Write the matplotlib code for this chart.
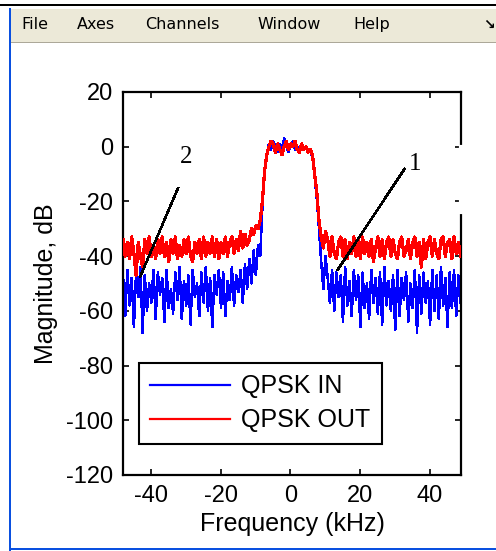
import numpy as np
import matplotlib
matplotlib.use("Agg")
import matplotlib.pyplot as plt
from matplotlib.patches import Rectangle

# ---------------- data ----------------
f_start = -48.0      # kHz, first spectrum bin
f_step = 0.625       # kHz, bin spacing

qpsk_in = [
    -47, -62, -45, -58, -48, -66, -46, -55, -44, -68,
    -47, -60, -50, -57, -45, -63, -46, -54, -48, -64,
    -45, -59, -52, -61, -46, -56, -44, -63, -49, -58,
    -47, -65, -45, -55, -50, -62, -46, -57, -44, -60,
    -48, -66, -47, -54, -45, -59, -46, -62, -49, -56,
    -44, -58, -47, -53, -45, -57, -43, -52,
    -41, -50, -38, -47, -36, -40, -22, -10, -3,
    1, -1, 2, 0, -2, 1, -1, 3, 0, -2, 1, 2, -1, 0, -2, 1, -1, 0, -2, -1,
    -4, -11, -19, -30, -42, -52, -40,
    -48, -57, -45, -60, -46, -55, -47, -64, -44, -58,
    -49, -62, -45, -56, -47, -66, -46, -59, -50, -63,
    -45, -57, -48, -61, -46, -65, -44, -58, -49, -60,
    -47, -67, -45, -62, -48, -56, -46, -64, -50, -59,
    -45, -68, -47, -61, -46, -57, -49, -65, -45, -60,
    -47, -63, -44, -58, -48, -66, -46, -59, -45, -62,
    -47, -57,
]

qpsk_out = [
    -34, -40, -35, -41, -33, -39, -47, -35, -40, -44,
    -34, -39, -33, -40, -36, -41, -34, -39, -33, -40,
    -35, -42, -34, -39, -33, -41, -36, -40, -34, -39,
    -33, -40, -42, -35, -39, -34, -41, -33, -40, -35,
    -39, -33, -40, -34, -41, -35, -39, -33, -40, -35,
    -33, -39, -34, -38, -31, -37, -32, -36,
    -34, -30, -32, -29, -30, -27, -20, -9, -3,
    0, 2, 1, -2, 1, -1, -3, 0, 2, -1, 1, 0, 2, -1, -2, 1, -1, 0, -2, -1,
    -3, -10, -17, -27, -33, -37, -31,
    -34, -40, -33, -39, -41, -35, -33, -40, -34, -41,
    -35, -39, -33, -40, -34, -41, -33, -39, -35, -40,
    -34, -42, -37, -33, -40, -34, -41, -35, -33, -40,
    -34, -39, -41, -35, -33, -40, -38, -34, -41, -35,
    -33, -40, -35, -44, -34, -41, -35, -33, -40, -34,
    -39, -41, -34, -33, -40, -35, -34, -41, -33, -39,
    -35, -40,
]

series_labels = ["QPSK IN", "QPSK OUT"]
series_colors = ["#0000FF", "#FF0000"]

x_ticks = [-40, -20, 0, 20, 40]
y_ticks = [-120, -100, -80, -60, -40, -20, 0, 20]
x_limits = [-48, 49]
y_limits = [-120, 20]

# annotation callouts: label, text position, pointer start, pointer end
ann_labels = ["1", "2"]
ann_text_xy = [(35.7, -6.3), (-29.9, -3.9)]
ann_line_from = [(32.8, -8.1), (-32.2, -15.1)]
ann_line_to = [(13.6, -45.0), (-43.1, -47.6)]

menu_items = ["File", "Axes", "Channels", "Window", "Help"]
menu_x_px = [21, 77, 145, 257, 353]

# ---------------- figure ----------------
W, H = 496, 551
plt.rcParams["axes.unicode_minus"] = False
plt.rcParams["font.family"] = ["Liberation Sans", "DejaVu Sans"]

fig = plt.figure(figsize=(W / 100, H / 100), dpi=100)
fig.patch.set_facecolor("white")


def px_rect(x, y, w, h, color, z=0):
    fig.patches.append(Rectangle((x / W, 1 - (y + h) / H), w / W, h / H,
                                 transform=fig.transFigure, facecolor=color,
                                 edgecolor="none", zorder=z))


# window chrome
px_rect(0, 3.5, W, 2.2, "black")
px_rect(11, 9, W - 11, 33, "#ECE9D8")
px_rect(11, 41.5, W - 11, 1.5, "#ACA899")
px_rect(8.5, 8, 2.4, 543, "#0A50E0")
px_rect(8.5, 548, W - 8.5, 2.4, "#0A50E0")

for name, xp in zip(menu_items, menu_x_px):
    fig.text(xp / W, 1 - 24.5 / H, name, fontsize=11.5, family="DejaVu Sans",
             ha="left", va="center", color="black")
fig.text(489 / W, 1 - 25 / H, "\u2198", fontsize=10, fontweight="bold",
         family="DejaVu Sans", ha="center", va="center", color="black")

# axes
ax = fig.add_axes([123 / W, 1 - 475 / H, (461 - 123) / W, (475 - 92) / H])
ax.set_facecolor("white")

f_in = f_start + f_step * np.arange(len(qpsk_in))
f_out = f_start + f_step * np.arange(len(qpsk_out))
ax.plot(f_in, qpsk_in, color=series_colors[0], lw=1.1, label=series_labels[0],
        zorder=2, antialiased=False)
ax.plot(f_out, qpsk_out, color=series_colors[1], lw=1.6, label=series_labels[1],
        zorder=3, antialiased=False)

for lab, txy, p0, p1 in zip(ann_labels, ann_text_xy, ann_line_from, ann_line_to):
    ax.plot([p0[0], p1[0]], [p0[1], p1[1]], color="black", lw=1.1, zorder=4,
            antialiased=False)
    ax.text(txy[0], txy[1], lab, fontsize=18, family="Liberation Serif",
            ha="center", va="center", color="black", zorder=4)

ax.set_xlim(x_limits)
ax.set_ylim(y_limits)
ax.set_xticks(x_ticks)
ax.set_yticks(y_ticks)
ax.tick_params(direction="in", length=4, width=1.2, top=True, right=True,
               labelsize=17, pad=7, colors="black")
for sp in ax.spines.values():
    sp.set_linewidth(1.6)
    sp.set_color("black")

# right spine gap seen in reference
ax.plot([1, 1], [0.857, 0.686], transform=ax.transAxes, color="white",
        lw=3, clip_on=False, zorder=6)

ax.set_xlabel("Frequency (kHz)", fontsize=18, labelpad=4)
ax.set_ylabel("Magnitude, dB", fontsize=18, labelpad=6)

leg = ax.legend(loc="upper left", bbox_to_anchor=(0.047, 0.292),
                borderaxespad=0, fontsize=18, handlelength=3.2,
                handletextpad=0.45, borderpad=0.45, labelspacing=0.4,
                frameon=True, fancybox=False, edgecolor="black",
                framealpha=1, facecolor="white")
leg.get_frame().set_linewidth(1.5)
leg.set_zorder(7)
for h in leg.get_lines():
    h.set_linewidth(1.6)

fig.savefig("out.png", dpi=100)
